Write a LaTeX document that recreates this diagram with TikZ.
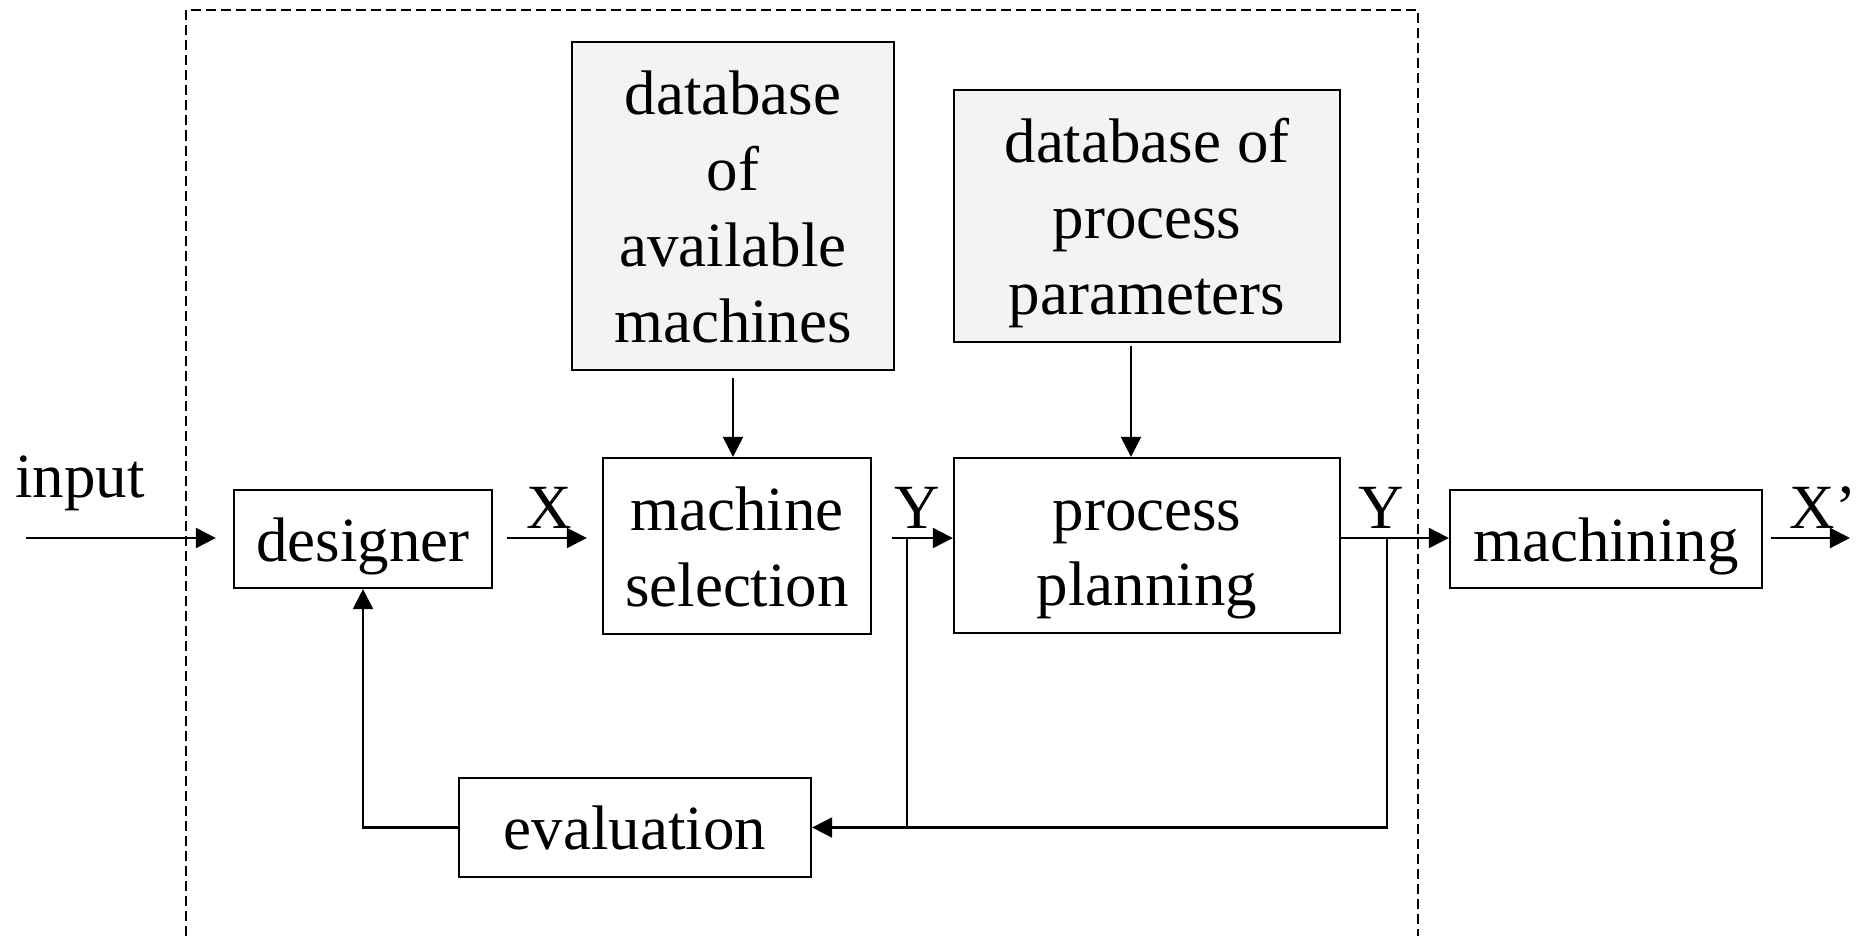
\documentclass[tikz,border=0pt]{standalone}
\usepackage{fontspec}
\setmainfont{Liberation Serif}
\usetikzlibrary{arrows.meta}
\definecolor{DbFill}{HTML}{F3F3F3}

% full-line strut, so every block centres its text the same way
\newcommand{\linestrut}{\rule[-0.216em]{0pt}{1.146em}}

\tikzset{
  block/.style={draw, line width=0.6pt, inner sep=0pt, align=center,
    execute at begin node=\linestrut, execute at end node=\linestrut},
  dbblock/.style={block, fill=DbFill},
  flow/.style={line width=0.6pt, -{Triangle[length=0.2cm,width=0.2cm]}},
  wire/.style={line width=0.6pt},
}

\begin{document}
\begin{tikzpicture}[x=0.01cm,y=-0.01cm,
    every node/.style={font=\fontsize{17.9}{21.6}\selectfont}]
  \useasboundingbox (0,0) rectangle (1862,936);

  % system boundary
  \draw[line width=0.45pt, dash pattern=on 0.1cm off 0.05cm]
    (186,936) -- (186,10) -- (1418,10) -- (1418,936);

  % blocks
  \node[block, minimum width=2.58cm, minimum height=0.98cm] (designer) at (363,539) {designer};
  \node[block, minimum width=2.68cm, minimum height=1.76cm] (msel) at (737,546) {\linestrut machine\\selection};
  \node[block, minimum width=3.86cm, minimum height=1.75cm] (plan) at (1147,545.5) {\linestrut process\\planning};
  \node[block, minimum width=3.12cm, minimum height=0.98cm] (mach) at (1606,539) {machining};
  \node[block, minimum width=3.52cm, minimum height=0.99cm] (eval) at (635,827.5) {evaluation};
  \node[dbblock, minimum width=3.22cm, minimum height=3.28cm] (dbmach) at (733,206) {\linestrut database\\of\\available\\machines};
  \node[dbblock, minimum width=3.86cm, minimum height=2.52cm] (dbpar) at (1147,216) {\linestrut database of\\process\\parameters};

  % signal labels
  \node[anchor=base] (lin) at (80,497) {input};
  \node[anchor=base] (lx) at (549,528) {X};
  \node[anchor=base] (ly1) at (917,528) {Y};
  \node[anchor=base] (ly2) at (1381,528) {Y};
  \node[anchor=base west, inner sep=0pt] (lxout) at (1789,528) {X'};

  % free ends and branch points
  \coordinate (src) at (26,538);
  \coordinate (snk) at (1850,538);
  \coordinate (tapA) at (907,538);
  \coordinate (tapB) at (1387,538);
  \coordinate (dbparOut) at (1131,342);

  % forward path
  \draw[flow, shorten >=0.17cm] (src) -- (src -| designer.west);
  \draw[flow, shorten <=0.14cm, shorten >=0.15cm] (src -| designer.east) -- (src -| msel.west);
  \draw[flow, shorten <=0.2cm] (src -| msel.east) -- (src -| plan.west);
  \draw[flow] (src -| plan.east) -- (src -| mach.west);
  \draw[flow, shorten <=0.08cm] (src -| mach.east) -- (snk);

  % database inputs
  \draw[flow, shorten <=0.07cm] (dbmach.south) -- (dbmach.south |- msel.north);
  \draw[flow, shorten <=0.04cm] (dbparOut) -- (dbparOut |- plan.north);

  % feedback loop
  \draw[flow] (tapB) |- (eval.east);
  \draw[wire] (tapA) -- (tapA |- eval.east);
  \draw[flow] (eval.west) -| (designer.south);
\end{tikzpicture}
\end{document}
